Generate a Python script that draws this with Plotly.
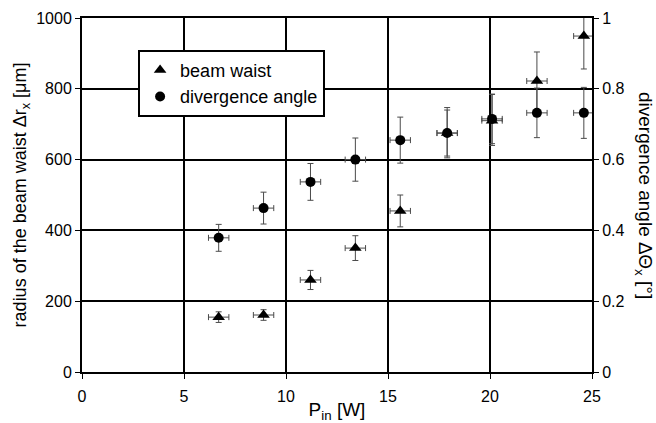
import plotly.graph_objects as go

# Data
p_in = [6.7, 8.9, 11.2, 13.4, 15.6, 17.9, 20.1, 22.3, 24.6]
p_err = [0.5, 0.5, 0.5, 0.5, 0.5, 0.5, 0.5, 0.5, 0.5]

waist = [155, 161, 260, 350, 455, 675, 710, 822, 949]
waist_err_plus = [15, 15, 27, 35, 45, 72, 74, 82, 56]
waist_err_minus = [15, 15, 27, 35, 45, 70, 70, 82, 93]

angle = [0.379, 0.463, 0.537, 0.600, 0.655, 0.675, 0.715, 0.732, 0.732]
angle_err = [0.038, 0.045, 0.052, 0.061, 0.065, 0.065, 0.07, 0.07, 0.072]

x_ticks = [0, 5, 10, 15, 20, 25]
y_ticks = [0, 200, 400, 600, 800, 1000]
y2_ticks = [0, 0.2, 0.4, 0.6, 0.8, 1]
y2_labels = ["0", "0.2", "0.4", "0.6", "0.8", "1"]

FONT = "Liberation Sans, Arial, sans-serif"
ERRC = "#4a4a4a"

fig = go.Figure()
fig.add_trace(go.Scatter(
    x=p_in, y=waist, mode="markers", name="beam waist",
    marker=dict(symbol="triangle-up", size=11, color="black"),
    error_x=dict(type="data", array=p_err, color=ERRC, thickness=1, width=3),
    error_y=dict(type="data", array=waist_err_plus, arrayminus=waist_err_minus,
                 symmetric=False, color=ERRC, thickness=1, width=3),
    cliponaxis=False,
))
fig.add_trace(go.Scatter(
    x=p_in, y=angle, mode="markers", name="divergence angle", yaxis="y2",
    marker=dict(symbol="circle", size=10, color="black"),
    error_x=dict(type="data", array=p_err, color=ERRC, thickness=1, width=3),
    error_y=dict(type="data", array=angle_err, color=ERRC, thickness=1, width=3),
    cliponaxis=False,
))

axis_common = dict(
    showline=True, linecolor="black", linewidth=2,
    ticks="outside", ticklen=5, tickcolor="black", tickwidth=1,
    tickfont=dict(family=FONT, size=16, color="black"),
    zeroline=False, automargin=False,
)

fig.update_layout(
    width=656, height=423,
    margin=dict(l=82, r=64, t=18, b=51),
    paper_bgcolor="white", plot_bgcolor="white",
    font=dict(family=FONT, size=16, color="black"),
    showlegend=True,
    legend=dict(
        x=0.11, y=0.91, xanchor="left", yanchor="top",
        bgcolor="white", bordercolor="black", borderwidth=2,
        font=dict(family=FONT, size=18, color="black"),
        itemwidth=30,
    ),
    xaxis=dict(
        range=[0, 25], tickvals=x_ticks, mirror=True,
        showgrid=True, gridcolor="black", gridwidth=2,
        ticklabelstandoff=4,
        title=dict(text="P<sub>in</sub> [W]", font=dict(family=FONT, size=19), standoff=5),
        **axis_common,
    ),
    yaxis=dict(
        range=[0, 1000], tickvals=y_ticks, mirror=False,
        showgrid=True, gridcolor="black", gridwidth=2,
        title=dict(text="radius of the beam waist Δr<sub>x</sub> [μm]",
                   font=dict(family=FONT, size=18), standoff=5),
        **axis_common,
    ),
    yaxis2=dict(
        range=[0, 1], tickvals=y2_ticks, ticktext=y2_labels,
        overlaying="y", side="right", showgrid=False,
        **axis_common,
    ),
    annotations=[dict(
        text="divergence angle ΔΘ<sub>x</sub> [°]",
        xref="paper", yref="paper", x=1.0, y=0.5,
        xanchor="center", yanchor="middle", xshift=52,
        textangle=90, showarrow=False,
        font=dict(family=FONT, size=19, color="black"),
    )],
)

fig.write_html("out.html", config={"displayModeBar": False},
               post_script="document.body.style.margin='0';")
